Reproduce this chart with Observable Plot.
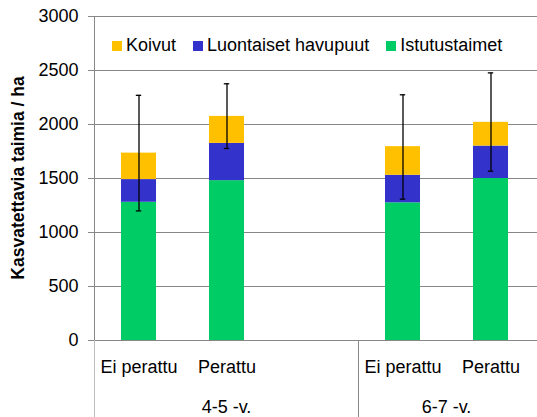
<!DOCTYPE html>
<html><head><meta charset="utf-8">
<script src="https://cdn.jsdelivr.net/npm/d3@7"></script>
<script src="https://cdn.jsdelivr.net/npm/@observablehq/plot@0.6"></script>
<style>
html,body{margin:0;padding:0;background:#fff;}
#wrap{position:relative;width:537px;height:417px;font-family:"Liberation Sans",Arial,sans-serif;color:#000;}
#legend{position:absolute;left:112px;top:35px;display:flex;font-size:18px;line-height:21px;white-space:nowrap;}
#legend .item{display:flex;align-items:center;margin-right:17px;}
#legend .sw{width:10px;height:10px;margin-right:4px;}
</style></head><body><div id="wrap"></div>
<script>
const slotDomain = ["4-5 -v.|Ei perattu", "4-5 -v.|Perattu", "4-5 -v.|", "6-7 -v.|Ei perattu", "6-7 -v.|Perattu"];
const groups = ["4-5 -v.", "6-7 -v."];
const barSlots = ["4-5 -v.|Ei perattu", "4-5 -v.|Perattu", "6-7 -v.|Ei perattu", "6-7 -v.|Perattu"];
const series = ["Istutustaimet", "Luontaiset havupuut", "Koivut"];
const seriesColors = ["#00cc66", "#3333cc", "#ffc000"];
const legendOrder = ["Koivut", "Luontaiset havupuut", "Istutustaimet"];
const istutustaimet = [1280, 1480, 1275, 1500];
const luontaiset = [210, 345, 255, 300];
const koivut = [245, 250, 265, 220];
const errLow = [1200, 1778, 1309, 1568];
const errHigh = [2270, 2377, 2275, 2478];
const yTicks = [0, 500, 1000, 1500, 2000, 2500, 3000];
const yLabel = "Kasvatettavia taimia / ha";

const seriesValues = [istutustaimet, luontaiset, koivut];
const bars = [];
series.forEach((s, si) => barSlots.forEach((slot, i) => bars.push({slot, series: s, value: seriesValues[si][i]})));
const errs = barSlots.map((slot, i) => ({slot, lo: errLow[i], hi: errHigh[i]}));

const FONT = '"Liberation Sans", Arial, sans-serif';
const FS = "18px";
const W = 537, H = 417;
const chart = Plot.plot({
  width: W, height: H,
  marginLeft: 93, marginRight: 0, marginTop: 16, marginBottom: 77,
  style: {fontFamily: FONT, fontSize: FS, color: "#000", background: "#fff"},
  x: {domain: slotDomain, paddingInner: 0.6, paddingOuter: 0.3, label: null},
  y: {domain: [0, 3000], label: null},
  color: {domain: series, range: seriesColors},
  marks: [
    Plot.ruleY(yTicks.filter(t => t > 0), {stroke: "#878787", strokeWidth: 1}),
    Plot.barY(bars, {x: "slot", y: "value", fill: "series"}),
    Plot.ruleY([0], {stroke: "#878787", strokeWidth: 1}),
    Plot.ruleX(errs, {x: "slot", y1: "lo", y2: "hi", stroke: "#000", strokeWidth: 1.3}),
    Plot.tickY(errs, {x: "slot", y: "lo", stroke: "#000", strokeWidth: 1.3, insetLeft: 14.8, insetRight: 14.8}),
    Plot.tickY(errs, {x: "slot", y: "hi", stroke: "#000", strokeWidth: 1.3, insetLeft: 14.8, insetRight: 14.8}),
    Plot.axisY({ticks: yTicks, tickSize: 5, tickPadding: 10, tickFormat: d3.format("d"), stroke: "#878787", fill: "#000", fontSize: FS, label: null}),
    Plot.axisX({tickSize: 0, tickPadding: 20, tickFormat: d => d.split("|")[1], fill: "#000", fontSize: FS, label: null})
  ]
});

const wrap = document.getElementById("wrap");
wrap.appendChild(chart);
const svg = d3.select(chart);
const sx = chart.scale("x"), sy = chart.scale("y");
const gap = sx.step - sx.bandwidth;
const y0 = sy.apply(0), yTop = sy.apply(3000);
const xLeft = sx.apply(slotDomain[0]) - gap / 2;

const g = svg.append("g");
g.append("line").attr("x1", xLeft).attr("x2", xLeft).attr("y1", yTop).attr("y2", y0).attr("stroke", "#878787");
g.append("line").attr("x1", xLeft).attr("x2", xLeft).attr("y1", y0).attr("y2", H).attr("stroke", "#bdbdbd");
groups.forEach((gr, gi) => {
  const members = slotDomain.filter(d => d.startsWith(gr + "|"));
  const a = sx.apply(members[0]) - gap / 2;
  const b = sx.apply(members[members.length - 1]) + sx.bandwidth + gap / 2;
  if (gi > 0) g.append("line").attr("x1", a).attr("x2", a).attr("y1", y0).attr("y2", H).attr("stroke", "#878787");
  g.append("text").attr("x", (a + b) / 2).attr("y", H - 4).attr("text-anchor", "middle")
    .attr("font-size", FS).attr("fill", "#000").text(gr);
});
g.append("text").attr("transform", `translate(24,${(y0 + yTop) / 2}) rotate(-90)`)
  .attr("text-anchor", "middle").attr("font-size", "17.5px").attr("font-weight", "bold").attr("fill", "#000").text(yLabel);

const legend = d3.select(wrap).append("div").attr("id", "legend");
legendOrder.forEach(s => {
  const it = legend.append("div").attr("class", "item");
  it.append("div").attr("class", "sw").style("background", seriesColors[series.indexOf(s)]);
  it.append("span").text(s);
});
</script>
</body></html>
